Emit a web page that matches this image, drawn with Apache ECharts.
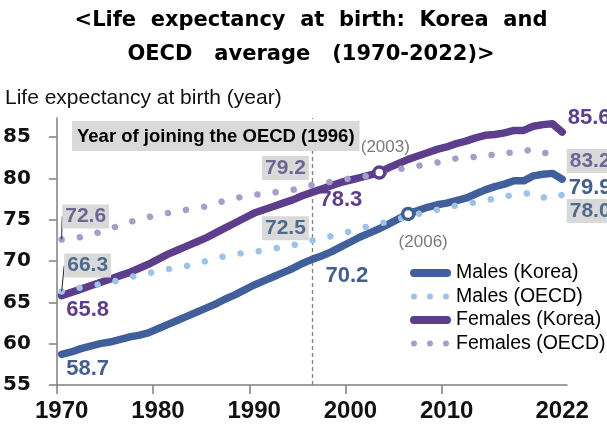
<!DOCTYPE html>
<html>
<head>
<meta charset="utf-8">
<script src="https://cdn.jsdelivr.net/npm/echarts@6/dist/echarts.min.js"></script>
<style>
  html, body { margin: 0; padding: 0; background: #fff; }
  #chart { width: 607px; height: 427px; }
</style>
</head>
<body>
<div id="chart"></div>
<script>
// years on the x axis
const years = [
  1970, 1971, 1972, 1973, 1974, 1975, 1976, 1977, 1978, 1979,
  1980, 1981, 1982, 1983, 1984, 1985, 1986, 1987, 1988, 1989,
  1990, 1991, 1992, 1993, 1994, 1995, 1996, 1997, 1998, 1999,
  2000, 2001, 2002, 2003, 2004, 2005, 2006, 2007, 2008, 2009,
  2010, 2011, 2012, 2013, 2014, 2015, 2016, 2017, 2018, 2019,
  2020, 2021, 2022
];
const maleKorea = [
  58.7, 59.0, 59.4, 59.7, 60.0, 60.2, 60.5, 60.8, 61.0, 61.3,
  61.8, 62.3, 62.8, 63.3, 63.8, 64.3, 64.8, 65.4, 65.9, 66.5,
  67.1, 67.6, 68.1, 68.6, 69.1, 69.7, 70.2, 70.6, 71.1, 71.7,
  72.3, 72.9, 73.4, 73.9, 74.5, 75.1, 75.7, 76.1, 76.5, 76.8,
  77.0, 77.3, 77.6, 78.1, 78.6, 79.0, 79.3, 79.7, 79.7, 80.3,
  80.5, 80.6, 79.9
];
const femaleKorea = [
  65.8, 66.2, 66.6, 67.0, 67.4, 67.8, 68.2, 68.6, 69.1, 69.6,
  70.2, 70.8, 71.3, 71.8, 72.3, 72.8, 73.4, 74.0, 74.6, 75.2,
  75.8, 76.2, 76.6, 77.0, 77.4, 77.9, 78.3, 78.7, 79.1, 79.5,
  79.8, 80.1, 80.4, 80.7, 81.3, 81.8, 82.3, 82.7, 83.1, 83.5,
  83.8, 84.2, 84.5, 84.9, 85.2, 85.3, 85.5, 85.8, 85.8, 86.3,
  86.5, 86.6, 85.6
];
const maleOecd = [
  66.3, 66.5, 66.8, 67.0, 67.2, 67.4, 67.7, 68.0, 68.3, 68.5,
  68.8, 69.0, 69.2, 69.4, 69.7, 70.0, 70.3, 70.6, 70.8, 71.0,
  71.1, 71.3, 71.5, 71.7, 71.9, 72.2, 72.5, 72.7, 73.0, 73.3,
  73.6, 74.0, 74.2, 74.5, 74.8, 75.1, 75.4, 75.7, 75.9, 76.2,
  76.5, 76.7, 76.9, 77.1, 77.4, 77.5, 77.8, 78.0, 78.1, 78.3,
  77.7, 77.6, 78.0
];
const femaleOecd = [
  72.6, 72.7, 72.9, 73.2, 73.5, 73.9, 74.3, 74.7, 75.0, 75.3,
  75.6, 75.8, 76.0, 76.2, 76.4, 76.6, 77.0, 77.3, 77.6, 77.8,
  78.0, 78.1, 78.3, 78.4, 78.6, 78.9, 79.2, 79.4, 79.6, 79.8,
  80.0, 80.2, 80.3, 80.5, 80.8, 81.1, 81.3, 81.5, 81.7, 81.9,
  82.2, 82.4, 82.5, 82.6, 82.9, 82.8, 83.1, 83.1, 83.3, 83.5,
  83.1, 83.0, 83.2
];
const xLabelYears = [1970, 1980, 1990, 2000, 2010, 2022];
const xTickYears = [1969.5, 1979.5, 1989.5, 1999.5, 2009.5];
const yTicks = [55, 60, 65, 70, 75, 80, 85];
const joinYear = 1996;
const femaleCrossYear = 2003;
const maleCrossYear = 2006;

const SANS = 'Liberation Sans';
const C_MK = '#41609b', C_FK = '#5c3e8c', C_MO = '#9dc3e6', C_FO = '#a69ec6';

const fmt = p => p.value[1].toFixed(1);

// labels only on the years listed in spots, moved by offset (Korea) or labelLayout (OECD)
function buildData(vals, spots, style, useOffset) {
  return years.map((y, i) => {
    const item = { value: [y, vals[i]] };
    if (spots[y]) {
      item.label = Object.assign({
        show: true, position: 'inside', offset: useOffset ? spots[y] : [0, 0], formatter: fmt
      }, style);
    }
    return item;
  });
}

const plainLabel = (color) => ({
  color: color, fontFamily: SANS, fontWeight: 'bold', fontSize: 22, textBorderWidth: 0
});
const boxLabel = (color) => ({
  color: color, fontFamily: SANS, fontWeight: 'bold', fontSize: 21, textBorderWidth: 0,
  backgroundColor: '#d9d9d9', padding: [2, 3, 1, 3]
});

function oecdSeries(name, vals, spots, labelColor, color) {
  const data = buildData(vals, spots, boxLabel(labelColor), false);
  // leader line from the first point to its box
  data[0].labelLine = { show: true, lineStyle: { color: '#222', width: 1 } };
  return Object.assign({}, lineBase, {
    name: name,
    data: data,
    itemStyle: { color: color },
    lineStyle: { color: color, width: 6.5, type: [0.01, 18.3], cap: 'round' },
    labelLine: { show: false },
    labelLayout: p => {
      const s = spots[years[p.dataIndex]];
      return s ? { dx: s[0], dy: s[1] } : {};
    }
  });
}

const capsule = 'path://M4,0L37,0A4,4,0,0,1,37,8L4,8A4,4,0,0,1,4,0Z';
const dots = 'path://M0,0L0,0M41,8L41,8' +
  'M7,4A3,3,0,1,1,1,4A3,3,0,1,1,7,4Z' +
  'M23,4A3,3,0,1,1,17,4A3,3,0,1,1,23,4Z' +
  'M39,4A3,3,0,1,1,33,4A3,3,0,1,1,39,4Z';

const chart = echarts.init(document.getElementById('chart'), null, { renderer: 'canvas' });

const crossMark = (color, year, vals, offset) => ({
  silent: true,
  symbol: 'circle',
  symbolSize: 11,
  itemStyle: { color: '#fff', borderColor: color, borderWidth: 3.5 },
  label: {
    show: true, position: 'inside', offset: offset, formatter: '(' + year + ')',
    color: '#7a7a7a', fontFamily: SANS, fontSize: 17, textBorderWidth: 0
  },
  data: [{ coord: [year, vals[years.indexOf(year)]] }]
});

const lineBase = {
  type: 'line',
  symbol: 'circle',
  symbolSize: 0.5,
  showSymbol: true,
  showAllSymbol: true,
  emphasis: { disabled: true },
  animation: false
};

chart.setOption({
  animation: false,
  title: [
    {
      text: '<Life  expectancy  at  birth:  Korea  and\nOECD   average   (1970-2022)>',
      left: 311, top: 4, padding: 0, textAlign: 'center',
      textStyle: { fontFamily: 'DejaVu Sans', fontWeight: 'bold', fontSize: 21, lineHeight: 34, color: '#000' }
    },
    {
      text: 'Life expectancy at birth (year)',
      left: 5, top: 88, padding: 0,
      textStyle: { fontFamily: SANS, fontWeight: 'normal', fontSize: 21, color: '#111' }
    },
    {
      text: 'Year of joining the OECD (' + joinYear + ')',
      left: 72, top: 121, padding: [6, 5, 5, 5],
      backgroundColor: '#d9d9d9',
      textStyle: { fontFamily: SANS, fontWeight: 'bold', fontSize: 18.5, color: '#000' }
    }
  ],
  grid: { left: 50, right: 40, top: 118, bottom: 42, containLabel: false },
  xAxis: {
    type: 'value',
    min: 1969.5,
    max: 2022.5,
    splitLine: { show: false },
    axisLine: { lineStyle: { color: '#808080', width: 1.5 } },
    axisTick: { show: true, customValues: xTickYears, length: 9, lineStyle: { color: '#808080', width: 1.5 } },
    axisLabel: {
      customValues: xLabelYears, formatter: v => String(v), margin: 14,
      fontFamily: SANS, fontWeight: 'bold', fontSize: 24, color: '#111'
    }
  },
  yAxis: {
    type: 'value',
    min: 55,
    max: 87.3,
    splitLine: { show: false },
    axisLine: { show: true, lineStyle: { color: '#808080', width: 1.5 } },
    axisTick: { show: true, customValues: yTicks, length: 8, lineStyle: { color: '#808080', width: 1.5 } },
    axisLabel: {
      customValues: yTicks, margin: 16, padding: [0, 10, 0, 0], align: 'right',
      fontFamily: 'DejaVu Sans', fontWeight: 'bold', fontSize: 20, color: '#111'
    }
  },
  legend: {
    orient: 'vertical',
    left: 405,
    top: 258,
    itemWidth: 41,
    itemHeight: 8,
    itemGap: 3.5,
    selectedMode: false,
    textStyle: { fontFamily: SANS, fontSize: 19.5, color: '#000' },
    data: [
      { name: 'Males (Korea)', icon: capsule, itemStyle: { color: C_MK, borderWidth: 0 } },
      { name: 'Males (OECD)', icon: dots, itemStyle: { color: C_MO, borderWidth: 0 } },
      { name: 'Females (Korea)', icon: capsule, itemStyle: { color: C_FK, borderWidth: 0 } },
      { name: 'Females (OECD)', icon: dots, itemStyle: { color: C_FO, borderWidth: 0 } }
    ]
  },
  series: [
    Object.assign({}, lineBase, {
      name: 'Males (Korea)',
      data: buildData(maleKorea, { 1970: [26, 15], 1996: [35, 17], 2022: [28, 9] }, plainLabel('#445f8e'), true),
      itemStyle: { color: C_MK },
      lineStyle: { color: C_MK, width: 7.5, cap: 'round', join: 'round' },
      markPoint: crossMark(C_MK, maleCrossYear, maleKorea, [15, 28]),
      markLine: {
        silent: true, z: 1, symbol: ['none', 'none'],
        lineStyle: { type: [4, 3], color: '#808080', width: 1.3 },
        label: { show: false },
        data: [{ xAxis: joinYear }]
      }
    }),
    Object.assign({}, lineBase, {
      name: 'Females (Korea)',
      data: buildData(femaleKorea, { 1970: [26, 14], 1996: [29, 8], 2022: [27, -14.5] }, plainLabel('#5c3e8c'), true),
      itemStyle: { color: C_FK },
      lineStyle: { color: C_FK, width: 7.5, cap: 'round', join: 'round' },
      markPoint: crossMark(C_FK, femaleCrossYear, femaleKorea, [6, -25.5])
    }),
    oecdSeries('Males (OECD)', maleOecd, { 1970: [26, -26], 1996: [-26.5, -12], 2022: [28, 16] }, '#4e6a8c', C_MO),
    oecdSeries('Females (OECD)', femaleOecd, { 1970: [24, -23], 1996: [-26.5, -17], 2022: [28, 9] }, '#6b6694', C_FO)
  ]
});
</script>
</body>
</html>
